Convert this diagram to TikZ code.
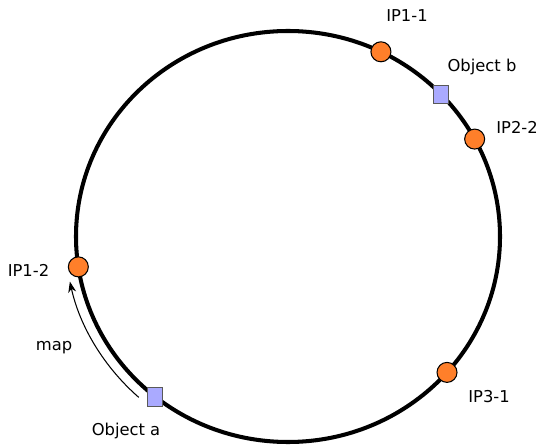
\documentclass[tikz,border=0pt]{standalone}
\usepackage{fontspec}
\setmainfont{DejaVu Sans}
\usetikzlibrary{arrows.meta}

\definecolor{iporange}{HTML}{FF7F2A}
\definecolor{objblue}{HTML}{AAAAFF}

\tikzset{
  ipnode/.style={circle, draw=black, line width=0.6pt, fill=iporange,
    minimum size=0.4cm, inner sep=0pt},
  objnode/.style={rectangle, draw=black!65, line width=0.6pt, fill=objblue,
    minimum width=0.3cm, minimum height=0.37cm, inner sep=0pt},
  lbl/.style={font=\fontsize{9.3}{11}\selectfont, inner sep=0pt}
}

\begin{document}
\begin{tikzpicture}
  \useasboundingbox (-5.76,-4.17) rectangle (5.02,4.73);

  % Hash ring
  \draw[line width=2.3pt] (0,0) ellipse [x radius=4.24, y radius=4.11];

  % Servers on the ring
  \node[ipnode] (ip11) at (64:4.24 and 4.11) {};
  \node[ipnode] (ip22) at (28.3:4.24 and 4.11) {};
  \node[ipnode] (ip12) at (188.5:4.24 and 4.11) {};
  \node[ipnode] (ip31) at (-41.4:4.24 and 4.11) {};

  % Objects on the ring
  \node[objnode] (objb) at (43.7:4.24 and 4.11) {};
  \node[objnode] (obja) at (231.3:4.24 and 4.11) {};

  % Labels
  \node[lbl] (ip11txt) at (2.38,4.42) {IP1-1};
  \node[lbl] (objbtxt) at (3.88,3.39) {Object b};
  \node[lbl] (ip22txt) at (4.58,2.19) {IP2-2};
  \node[lbl] (ip12txt) at (-5.19,-0.67) {IP1-2};
  \node[lbl] (objatxt) at (-3.24,-3.89) {Object a};
  \node[lbl] (ip31txt) at (4.02,-3.21) {IP3-1};
  \node[lbl] (maptxt) at (-4.68,-2.22) {map};

  % Object a is mapped clockwise to IP1-2
  \coordinate (mapfrom) at (228:4.46 and 4.33);
  \draw[line width=0.6pt, -{Stealth[length=2.2mm,width=1.6mm]}]
    (mapfrom) arc [start angle=228, end angle=192, x radius=4.46, y radius=4.33];
\end{tikzpicture}
\end{document}
